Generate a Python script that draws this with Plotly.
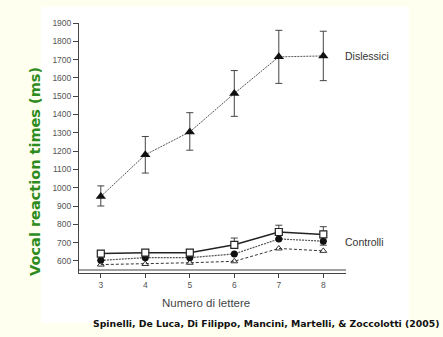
import plotly.graph_objects as go

letters = [3, 4, 5, 6, 7, 8]
dislessici = [952, 1180, 1305, 1515, 1715, 1720]
dis_err_up = [58, 100, 105, 125, 145, 135]
dis_err_dn = [52, 100, 100, 125, 145, 135]
ctrl_square = [640, 645, 645, 688, 758, 745]
sq_err_up = [0, 0, 0, 37, 37, 42]
ctrl_circle = [603, 618, 618, 638, 720, 708]
ci_err_dn = [0, 0, 0, 0, 0, 22]
ctrl_triangle = [580, 583, 590, 598, 668, 655]

W, H = 443, 337
L, R, T, B = 79, 97, 23.3, 64
PW, PH = W - L - R, H - T - B
Y0, Y1 = 534, 1900
X0, X1 = 2.51, 8.51

def px(x):
    return (x - L) / PW

def py(y):
    return (H - B - y) / PH

def yval(pix):
    return Y0 + (H - B - pix) / PH * (Y1 - Y0)

fig = go.Figure()

fig.add_trace(go.Scatter(
    x=letters, y=dislessici, mode="lines+markers",
    line=dict(color="#555555", width=1, dash="2px,1px"),
    marker=dict(symbol="triangle-up", size=9, color="#111111"),
    error_y=dict(type="data", symmetric=False, array=dis_err_up, arrayminus=dis_err_dn,
                 color="#444444", thickness=1, width=3.5),
    showlegend=False))

fig.add_trace(go.Scatter(
    x=letters, y=ctrl_triangle, mode="lines+markers",
    line=dict(color="#333333", width=1, dash="3px,2px"),
    marker=dict(symbol="triangle-up-open", size=6, color="#333333", line=dict(width=1)),
    showlegend=False))

fig.add_trace(go.Scatter(
    x=letters, y=ctrl_circle, mode="lines+markers",
    line=dict(color="#555555", width=1.2, dash="2px,1px"),
    marker=dict(symbol="circle", size=7, color="#111111"),
    error_y=dict(type="data", symmetric=False, array=[0]*6, arrayminus=ci_err_dn,
                 color="#444444", thickness=1, width=3.5),
    showlegend=False))

fig.add_trace(go.Scatter(
    x=letters, y=ctrl_square, mode="lines+markers",
    line=dict(color="#222222", width=1.5),
    marker=dict(symbol="square", size=7, color="white", line=dict(color="#222222", width=1.2)),
    error_y=dict(type="data", symmetric=False, array=sq_err_up, arrayminus=[0]*6,
                 color="#444444", thickness=1, width=3.5),
    showlegend=False))

shapes = [
    dict(type="rect", xref="paper", yref="paper", x0=px(41), x1=px(409), y0=py(323), y1=py(7),
         fillcolor="white", line=dict(width=0), layer="below"),
    dict(type="line", xref="paper", yref="y", x0=0, x1=1, y0=yval(270), y1=yval(270),
         line=dict(color="#444444", width=1.2)),
]

annotations = [
    dict(text="Dislessici", x=px(343), y=1718, xref="paper", yref="y", xanchor="left",
         showarrow=False, font=dict(family="Liberation Sans, Arial", size=10.5, color="#333333")),
    dict(text="Controlli", x=px(343), y=705, xref="paper", yref="y", xanchor="left",
         showarrow=False, font=dict(family="Liberation Sans, Arial", size=10.5, color="#333333")),
    dict(text="Numero di lettere", x=px(206), y=py(311), xref="paper", yref="paper",
         showarrow=False, font=dict(family="Liberation Sans, Arial", size=11.5, color="#444444")),
    dict(text="<b>Vocal reaction times (ms)</b>", x=px(25), y=py(172), xref="paper", yref="paper",
         textangle=-90, showarrow=False,
         font=dict(family="DejaVu Sans", size=14.5, color="#2E8B1E")),
    dict(text="<b>Spinelli, De Luca, Di Filippo, Mancini, Martelli, &amp; Zoccolotti (2005)</b>",
         x=px(91), y=py(331), xref="paper", yref="paper", xanchor="left", showarrow=False,
         font=dict(family="DejaVu Sans", size=9.3, color="#111111")),
]

fig.update_layout(
    width=W, height=H,
    margin=dict(l=L, r=R, t=T, b=B, pad=0),
    paper_bgcolor="#FFFFF0", plot_bgcolor="rgba(0,0,0,0)",
    shapes=shapes, annotations=annotations,
    xaxis=dict(range=[X0, X1], tickvals=letters, ticktext=[str(v) for v in letters],
               showgrid=False, zeroline=False, showline=True, linecolor="#444444", linewidth=1.2,
               ticks="outside", ticklen=4, tickcolor="#444444",
               tickfont=dict(family="Liberation Sans, Arial", size=8.5, color="#555555")),
    yaxis=dict(range=[Y0, Y1], tickvals=list(range(600, 2000, 100)),
               showgrid=False, zeroline=False, showline=True, linecolor="#444444", linewidth=1,
               ticks="outside", ticklen=5, tickcolor="#444444",
               tickfont=dict(family="Liberation Sans, Arial", size=8.5, color="#555555")),
)

fig.write_html("out.html", config={"displayModeBar": False},
               post_script="document.body.style.margin='0px';")
